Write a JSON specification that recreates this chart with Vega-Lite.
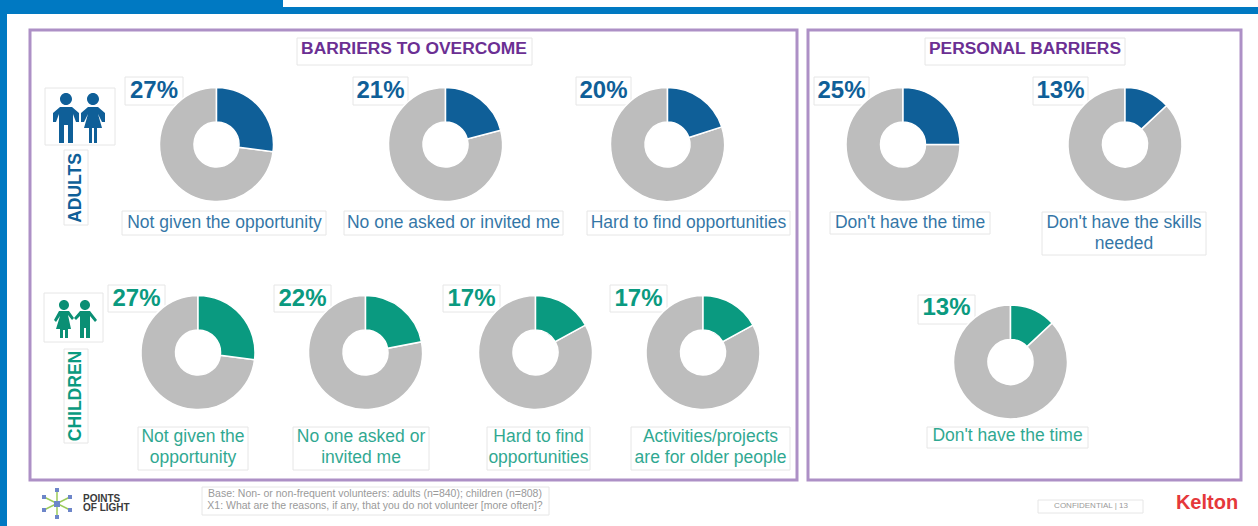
{"$schema":"https://vega.github.io/schema/vega-lite/v6.json","width":1258,"height":526,"padding":0,"autosize":{"type":"none"},"background":"white","config":{"view":{"stroke":null},"font":"Liberation Sans"},
"datasets":{"donuts":[
{"id":"a1","audience":"Adults","panel":"Barriers to overcome","pct":0.27,"label":"Not given the opportunity"},
{"id":"a2","audience":"Adults","panel":"Barriers to overcome","pct":0.21,"label":"No one asked or invited me"},
{"id":"a3","audience":"Adults","panel":"Barriers to overcome","pct":0.20,"label":"Hard to find opportunities"},
{"id":"c1","audience":"Children","panel":"Barriers to overcome","pct":0.27,"label":"Not given the\nopportunity"},
{"id":"c2","audience":"Children","panel":"Barriers to overcome","pct":0.22,"label":"No one asked or\ninvited me"},
{"id":"c3","audience":"Children","panel":"Barriers to overcome","pct":0.17,"label":"Hard to find\nopportunities"},
{"id":"c4","audience":"Children","panel":"Barriers to overcome","pct":0.17,"label":"Activities/projects\nare for older people"},
{"id":"r1","audience":"Adults","panel":"Personal barriers","pct":0.25,"label":"Don't have the time"},
{"id":"r2","audience":"Adults","panel":"Personal barriers","pct":0.13,"label":"Don't have the skills\nneeded"},
{"id":"r3","audience":"Children","panel":"Personal barriers","pct":0.13,"label":"Don't have the time"}
],"page":[{"anchor":"page","title1":"BARRIERS TO OVERCOME","title2":"PERSONAL BARRIERS","side1":"ADULTS","side2":"CHILDREN","logo":"POINTS\nOF LIGHT","base":"Base: Non- or non-frequent volunteers: adults (n=840); children (n=808)\nX1: What are the reasons, if any, that you do not volunteer [more often]?","conf":"CONFIDENTIAL     |     13","brand":"Kelton"}]},
"data":{"name":"donuts"},
"resolve":{"scale":{"x":"independent","y":"independent"}},
"layer":[
{"data":{"name":"page"},"encoding":{"x":{"field":"anchor","type":"nominal","axis":null,"scale":{"domain":["page"],"range":[0,0]}},"y":{"field":"anchor","type":"nominal","axis":null,"scale":{"domain":["page"],"range":[0,0]}}},
"layer":[
{"mark":{"type":"point","filled":true,"size":4,"opacity":1,"fill":"#0079c2","stroke":null,"shape":"M0 0H283V7H1258V14H7V526H0Z"}},
{"mark":{"type":"point","filled":false,"size":4,"opacity":1,"stroke":"#ad90c6","strokeWidth":3,"shape":"M30 30H797V480H30ZM808 30H1241V480H808Z"}},
{"mark":{"type":"point","filled":true,"size":4,"opacity":1,"fill":"#ffffff","stroke":"#e6e6e6","strokeWidth":1,"shape":"M297 38H532V65H297ZM925 38H1125V65H925ZM45 88H115V145H45ZM64 150H88V225H64ZM44 293H103V342H44ZM64 349H88V443H64ZM125 77H183V105H125ZM353 77H408V105H353ZM576 77H631V105H576ZM814 77H869V105H814ZM1033 77H1088V105H1033ZM108 285H165V312H108ZM274 285H331V312H274ZM443 285H500V312H443ZM610 285H667V312H610ZM918 295H975V324H918ZM122 211H326V235H122ZM344 211H563V235H344ZM587 211H790V235H587ZM830 212H990V234H830ZM1042 212H1206V255H1042ZM138 427H248V470H138ZM293 427H429V470H293ZM487 427H590V470H487ZM631 427H790V470H631ZM927 427H1088V448H927ZM202 487H549V515H202ZM1038 500H1143V513H1038Z"}},
{"mark":{"type":"point","filled":true,"size":4,"opacity":1,"fill":"#0f5f98","stroke":null,"shape":"M60 99a6 6 0 1 0 12 0a6 6 0 1 0 -12 0ZM60 107H72L79 113V122H76L73 114V143H68V125H64V143H59V114L56 122H53V113ZM87 99a6 6 0 1 0 12 0a6 6 0 1 0 -12 0ZM88 107H98L105 113V122H102L98 114L102 128H97V143H94V128H92V143H89V128H84L88 114L84 122H81V113Z"}},
{"mark":{"type":"point","filled":true,"size":4,"opacity":1,"fill":"#0a8f74","stroke":null,"shape":"M59 305a5 5 0 1 0 10 0a5 5 0 1 0 -10 0ZM59 311H69L74 318L72 320L68 315L71 329H68V338H65V330H63V338H60V329H56L60 316L56 322L54 320ZM80 305a5 5 0 1 0 10 0a5 5 0 1 0 -10 0ZM80 311H90L97 320L95 322L90 316V338H86V328H84V338H80V316L76 320L74 318Z"}},
{"mark":{"type":"point","filled":false,"size":4,"opacity":1,"stroke":"#9ccb5a","strokeWidth":1.5,"shape":"M44 497L70 510M44 510L70 497M57 490V517"}},
{"mark":{"type":"point","filled":true,"size":4,"opacity":1,"fill":"#6d86c9","stroke":null,"shape":"M54 501H60V507H54ZM55 488H59V492H55ZM55 515H59V519H55ZM68 495H72V499H68ZM42 495H46V499H42ZM68 508H72V512H68ZM42 508H46V512H42Z"}},
{"mark":{"type":"text","fontSize":17.4,"fontWeight":"bold","fill":"#6b2f93","align":"center","baseline":"middle","dx":414,"dy":49},"encoding":{"text":{"field":"title1"}}},
{"mark":{"type":"text","fontSize":17.4,"fontWeight":"bold","fill":"#6b2f93","align":"center","baseline":"middle","dx":1025,"dy":49},"encoding":{"text":{"field":"title2"}}},
{"mark":{"type":"text","fontSize":17.5,"fontWeight":"bold","fill":"#0f5f98","align":"center","baseline":"middle","angle":270,"dx":-188,"dy":76},"encoding":{"text":{"field":"side1"}}},
{"mark":{"type":"text","fontSize":17.5,"fontWeight":"bold","fill":"#0a9a80","align":"center","baseline":"middle","angle":270,"dx":-396,"dy":76},"encoding":{"text":{"field":"side2"}}},
{"mark":{"type":"text","fontSize":10,"fontWeight":"bold","fill":"#3a3a3a","align":"left","baseline":"top","lineBreak":"\n","lineHeight":9,"dx":83,"dy":494},"encoding":{"text":{"field":"logo"}}},
{"mark":{"type":"text","fontSize":10.5,"fill":"#9a9a9a","align":"center","baseline":"top","lineBreak":"\n","lineHeight":12,"dx":375,"dy":489},"encoding":{"text":{"field":"base"}}},
{"mark":{"type":"text","fontSize":8,"fill":"#9a9a9a","align":"center","baseline":"middle","dx":1091,"dy":506},"encoding":{"text":{"field":"conf"}}},
{"mark":{"type":"text","fontSize":20,"fontWeight":"bold","fill":"#e5383b","align":"center","baseline":"middle","dx":1207,"dy":503},"encoding":{"text":{"field":"brand"}}}
]},
{"transform":[{"filter":"datum.id==='a1'"}],"encoding":{"x":{"field":"id","type":"nominal","axis":null,"scale":{"domain":["a1"],"range":[216.5,216.5]}},"y":{"field":"id","type":"nominal","axis":null,"scale":{"domain":["a1"],"range":[144.5,144.5]}},"color":{"field":"audience","type":"nominal","legend":null,"scale":{"domain":["Adults","Children"],"range":["#0f5f98","#0a9a80"]}}},
"layer":[
{"mark":{"type":"arc","outerRadius":57,"innerRadius":22.5,"stroke":"white","strokeWidth":1.5},"encoding":{"color":{"value":"#bdbdbd"},"theta":{"field":"pct","type":"quantitative","stack":null,"scale":{"domain":[0,1],"range":[0,6.2832]}},"theta2":{"datum":1}}},
{"mark":{"type":"arc","outerRadius":57,"innerRadius":22.5,"stroke":"white","strokeWidth":1.5},"encoding":{"theta":{"field":"pct","type":"quantitative","stack":null,"scale":{"domain":[0,1],"range":[0,6.2832]}},"theta2":{"datum":0}}},
{"mark":{"type":"text","fontSize":24,"fontWeight":"bold","align":"center","baseline":"middle","dx":-62.5,"dy":-54},"encoding":{"text":{"field":"pct","format":".0%"}}},
{"mark":{"type":"text","fontSize":17.5,"opacity":0.85,"align":"center","baseline":"top","lineBreak":"\n","lineHeight":21,"dx":8,"dy":69.3},"encoding":{"text":{"field":"label"}}}
]},
{"transform":[{"filter":"datum.id==='a2'"}],"encoding":{"x":{"field":"id","type":"nominal","axis":null,"scale":{"domain":["a2"],"range":[445.5,445.5]}},"y":{"field":"id","type":"nominal","axis":null,"scale":{"domain":["a2"],"range":[144.5,144.5]}},"color":{"field":"audience","type":"nominal","legend":null,"scale":{"domain":["Adults","Children"],"range":["#0f5f98","#0a9a80"]}}},
"layer":[
{"mark":{"type":"arc","outerRadius":57,"innerRadius":22.5,"stroke":"white","strokeWidth":1.5},"encoding":{"color":{"value":"#bdbdbd"},"theta":{"field":"pct","type":"quantitative","stack":null,"scale":{"domain":[0,1],"range":[0,6.2832]}},"theta2":{"datum":1}}},
{"mark":{"type":"arc","outerRadius":57,"innerRadius":22.5,"stroke":"white","strokeWidth":1.5},"encoding":{"theta":{"field":"pct","type":"quantitative","stack":null,"scale":{"domain":[0,1],"range":[0,6.2832]}},"theta2":{"datum":0}}},
{"mark":{"type":"text","fontSize":24,"fontWeight":"bold","align":"center","baseline":"middle","dx":-65,"dy":-54},"encoding":{"text":{"field":"pct","format":".0%"}}},
{"mark":{"type":"text","fontSize":17.5,"opacity":0.85,"align":"center","baseline":"top","lineBreak":"\n","lineHeight":21,"dx":8,"dy":69.3},"encoding":{"text":{"field":"label"}}}
]},
{"transform":[{"filter":"datum.id==='a3'"}],"encoding":{"x":{"field":"id","type":"nominal","axis":null,"scale":{"domain":["a3"],"range":[667.5,667.5]}},"y":{"field":"id","type":"nominal","axis":null,"scale":{"domain":["a3"],"range":[144.5,144.5]}},"color":{"field":"audience","type":"nominal","legend":null,"scale":{"domain":["Adults","Children"],"range":["#0f5f98","#0a9a80"]}}},
"layer":[
{"mark":{"type":"arc","outerRadius":57,"innerRadius":22.5,"stroke":"white","strokeWidth":1.5},"encoding":{"color":{"value":"#bdbdbd"},"theta":{"field":"pct","type":"quantitative","stack":null,"scale":{"domain":[0,1],"range":[0,6.2832]}},"theta2":{"datum":1}}},
{"mark":{"type":"arc","outerRadius":57,"innerRadius":22.5,"stroke":"white","strokeWidth":1.5},"encoding":{"theta":{"field":"pct","type":"quantitative","stack":null,"scale":{"domain":[0,1],"range":[0,6.2832]}},"theta2":{"datum":0}}},
{"mark":{"type":"text","fontSize":24,"fontWeight":"bold","align":"center","baseline":"middle","dx":-64,"dy":-54},"encoding":{"text":{"field":"pct","format":".0%"}}},
{"mark":{"type":"text","fontSize":17.5,"opacity":0.85,"align":"center","baseline":"top","lineBreak":"\n","lineHeight":21,"dx":21,"dy":69.3},"encoding":{"text":{"field":"label"}}}
]},
{"transform":[{"filter":"datum.id==='c1'"}],"encoding":{"x":{"field":"id","type":"nominal","axis":null,"scale":{"domain":["c1"],"range":[198,198]}},"y":{"field":"id","type":"nominal","axis":null,"scale":{"domain":["c1"],"range":[352.5,352.5]}},"color":{"field":"audience","type":"nominal","legend":null,"scale":{"domain":["Adults","Children"],"range":["#0f5f98","#0a9a80"]}}},
"layer":[
{"mark":{"type":"arc","outerRadius":57,"innerRadius":22.5,"stroke":"white","strokeWidth":1.5},"encoding":{"color":{"value":"#bdbdbd"},"theta":{"field":"pct","type":"quantitative","stack":null,"scale":{"domain":[0,1],"range":[0,6.2832]}},"theta2":{"datum":1}}},
{"mark":{"type":"arc","outerRadius":57,"innerRadius":22.5,"stroke":"white","strokeWidth":1.5},"encoding":{"theta":{"field":"pct","type":"quantitative","stack":null,"scale":{"domain":[0,1],"range":[0,6.2832]}},"theta2":{"datum":0}}},
{"mark":{"type":"text","fontSize":24,"fontWeight":"bold","align":"center","baseline":"middle","dx":-61.5,"dy":-54},"encoding":{"text":{"field":"pct","format":".0%"}}},
{"mark":{"type":"text","fontSize":17.5,"opacity":0.85,"align":"center","baseline":"top","lineBreak":"\n","lineHeight":21,"dx":-5,"dy":75.4},"encoding":{"text":{"field":"label"}}}
]},
{"transform":[{"filter":"datum.id==='c2'"}],"encoding":{"x":{"field":"id","type":"nominal","axis":null,"scale":{"domain":["c2"],"range":[365.5,365.5]}},"y":{"field":"id","type":"nominal","axis":null,"scale":{"domain":["c2"],"range":[352.5,352.5]}},"color":{"field":"audience","type":"nominal","legend":null,"scale":{"domain":["Adults","Children"],"range":["#0f5f98","#0a9a80"]}}},
"layer":[
{"mark":{"type":"arc","outerRadius":57,"innerRadius":22.5,"stroke":"white","strokeWidth":1.5},"encoding":{"color":{"value":"#bdbdbd"},"theta":{"field":"pct","type":"quantitative","stack":null,"scale":{"domain":[0,1],"range":[0,6.2832]}},"theta2":{"datum":1}}},
{"mark":{"type":"arc","outerRadius":57,"innerRadius":22.5,"stroke":"white","strokeWidth":1.5},"encoding":{"theta":{"field":"pct","type":"quantitative","stack":null,"scale":{"domain":[0,1],"range":[0,6.2832]}},"theta2":{"datum":0}}},
{"mark":{"type":"text","fontSize":24,"fontWeight":"bold","align":"center","baseline":"middle","dx":-63,"dy":-54},"encoding":{"text":{"field":"pct","format":".0%"}}},
{"mark":{"type":"text","fontSize":17.5,"opacity":0.85,"align":"center","baseline":"top","lineBreak":"\n","lineHeight":21,"dx":-4.5,"dy":75.4},"encoding":{"text":{"field":"label"}}}
]},
{"transform":[{"filter":"datum.id==='c3'"}],"encoding":{"x":{"field":"id","type":"nominal","axis":null,"scale":{"domain":["c3"],"range":[535.5,535.5]}},"y":{"field":"id","type":"nominal","axis":null,"scale":{"domain":["c3"],"range":[352.5,352.5]}},"color":{"field":"audience","type":"nominal","legend":null,"scale":{"domain":["Adults","Children"],"range":["#0f5f98","#0a9a80"]}}},
"layer":[
{"mark":{"type":"arc","outerRadius":57,"innerRadius":22.5,"stroke":"white","strokeWidth":1.5},"encoding":{"color":{"value":"#bdbdbd"},"theta":{"field":"pct","type":"quantitative","stack":null,"scale":{"domain":[0,1],"range":[0,6.2832]}},"theta2":{"datum":1}}},
{"mark":{"type":"arc","outerRadius":57,"innerRadius":22.5,"stroke":"white","strokeWidth":1.5},"encoding":{"theta":{"field":"pct","type":"quantitative","stack":null,"scale":{"domain":[0,1],"range":[0,6.2832]}},"theta2":{"datum":0}}},
{"mark":{"type":"text","fontSize":24,"fontWeight":"bold","align":"center","baseline":"middle","dx":-64,"dy":-54},"encoding":{"text":{"field":"pct","format":".0%"}}},
{"mark":{"type":"text","fontSize":17.5,"opacity":0.85,"align":"center","baseline":"top","lineBreak":"\n","lineHeight":21,"dx":3,"dy":75.4},"encoding":{"text":{"field":"label"}}}
]},
{"transform":[{"filter":"datum.id==='c4'"}],"encoding":{"x":{"field":"id","type":"nominal","axis":null,"scale":{"domain":["c4"],"range":[703,703]}},"y":{"field":"id","type":"nominal","axis":null,"scale":{"domain":["c4"],"range":[352.5,352.5]}},"color":{"field":"audience","type":"nominal","legend":null,"scale":{"domain":["Adults","Children"],"range":["#0f5f98","#0a9a80"]}}},
"layer":[
{"mark":{"type":"arc","outerRadius":57,"innerRadius":22.5,"stroke":"white","strokeWidth":1.5},"encoding":{"color":{"value":"#bdbdbd"},"theta":{"field":"pct","type":"quantitative","stack":null,"scale":{"domain":[0,1],"range":[0,6.2832]}},"theta2":{"datum":1}}},
{"mark":{"type":"arc","outerRadius":57,"innerRadius":22.5,"stroke":"white","strokeWidth":1.5},"encoding":{"theta":{"field":"pct","type":"quantitative","stack":null,"scale":{"domain":[0,1],"range":[0,6.2832]}},"theta2":{"datum":0}}},
{"mark":{"type":"text","fontSize":24,"fontWeight":"bold","align":"center","baseline":"middle","dx":-64.5,"dy":-54},"encoding":{"text":{"field":"pct","format":".0%"}}},
{"mark":{"type":"text","fontSize":17.5,"opacity":0.85,"align":"center","baseline":"top","lineBreak":"\n","lineHeight":21,"dx":7.5,"dy":75.4},"encoding":{"text":{"field":"label"}}}
]},
{"transform":[{"filter":"datum.id==='r1'"}],"encoding":{"x":{"field":"id","type":"nominal","axis":null,"scale":{"domain":["r1"],"range":[903,903]}},"y":{"field":"id","type":"nominal","axis":null,"scale":{"domain":["r1"],"range":[144.5,144.5]}},"color":{"field":"audience","type":"nominal","legend":null,"scale":{"domain":["Adults","Children"],"range":["#0f5f98","#0a9a80"]}}},
"layer":[
{"mark":{"type":"arc","outerRadius":57,"innerRadius":22.5,"stroke":"white","strokeWidth":1.5},"encoding":{"color":{"value":"#bdbdbd"},"theta":{"field":"pct","type":"quantitative","stack":null,"scale":{"domain":[0,1],"range":[0,6.2832]}},"theta2":{"datum":1}}},
{"mark":{"type":"arc","outerRadius":57,"innerRadius":22.5,"stroke":"white","strokeWidth":1.5},"encoding":{"theta":{"field":"pct","type":"quantitative","stack":null,"scale":{"domain":[0,1],"range":[0,6.2832]}},"theta2":{"datum":0}}},
{"mark":{"type":"text","fontSize":24,"fontWeight":"bold","align":"center","baseline":"middle","dx":-61.5,"dy":-54},"encoding":{"text":{"field":"pct","format":".0%"}}},
{"mark":{"type":"text","fontSize":17.5,"opacity":0.85,"align":"center","baseline":"top","lineBreak":"\n","lineHeight":21,"dx":7,"dy":69.3},"encoding":{"text":{"field":"label"}}}
]},
{"transform":[{"filter":"datum.id==='r2'"}],"encoding":{"x":{"field":"id","type":"nominal","axis":null,"scale":{"domain":["r2"],"range":[1125,1125]}},"y":{"field":"id","type":"nominal","axis":null,"scale":{"domain":["r2"],"range":[144.5,144.5]}},"color":{"field":"audience","type":"nominal","legend":null,"scale":{"domain":["Adults","Children"],"range":["#0f5f98","#0a9a80"]}}},
"layer":[
{"mark":{"type":"arc","outerRadius":57,"innerRadius":22.5,"stroke":"white","strokeWidth":1.5},"encoding":{"color":{"value":"#bdbdbd"},"theta":{"field":"pct","type":"quantitative","stack":null,"scale":{"domain":[0,1],"range":[0,6.2832]}},"theta2":{"datum":1}}},
{"mark":{"type":"arc","outerRadius":57,"innerRadius":22.5,"stroke":"white","strokeWidth":1.5},"encoding":{"theta":{"field":"pct","type":"quantitative","stack":null,"scale":{"domain":[0,1],"range":[0,6.2832]}},"theta2":{"datum":0}}},
{"mark":{"type":"text","fontSize":24,"fontWeight":"bold","align":"center","baseline":"middle","dx":-64.5,"dy":-54},"encoding":{"text":{"field":"pct","format":".0%"}}},
{"mark":{"type":"text","fontSize":17.5,"opacity":0.85,"align":"center","baseline":"top","lineBreak":"\n","lineHeight":21,"dx":-1,"dy":69.3},"encoding":{"text":{"field":"label"}}}
]},
{"transform":[{"filter":"datum.id==='r3'"}],"encoding":{"x":{"field":"id","type":"nominal","axis":null,"scale":{"domain":["r3"],"range":[1010.5,1010.5]}},"y":{"field":"id","type":"nominal","axis":null,"scale":{"domain":["r3"],"range":[362,362]}},"color":{"field":"audience","type":"nominal","legend":null,"scale":{"domain":["Adults","Children"],"range":["#0f5f98","#0a9a80"]}}},
"layer":[
{"mark":{"type":"arc","outerRadius":57,"innerRadius":22.5,"stroke":"white","strokeWidth":1.5},"encoding":{"color":{"value":"#bdbdbd"},"theta":{"field":"pct","type":"quantitative","stack":null,"scale":{"domain":[0,1],"range":[0,6.2832]}},"theta2":{"datum":1}}},
{"mark":{"type":"arc","outerRadius":57,"innerRadius":22.5,"stroke":"white","strokeWidth":1.5},"encoding":{"theta":{"field":"pct","type":"quantitative","stack":null,"scale":{"domain":[0,1],"range":[0,6.2832]}},"theta2":{"datum":0}}},
{"mark":{"type":"text","fontSize":24,"fontWeight":"bold","align":"center","baseline":"middle","dx":-64,"dy":-54},"encoding":{"text":{"field":"pct","format":".0%"}}},
{"mark":{"type":"text","fontSize":17.5,"opacity":0.85,"align":"center","baseline":"top","lineBreak":"\n","lineHeight":21,"dx":-3,"dy":65.4},"encoding":{"text":{"field":"label"}}}
]}
]}
